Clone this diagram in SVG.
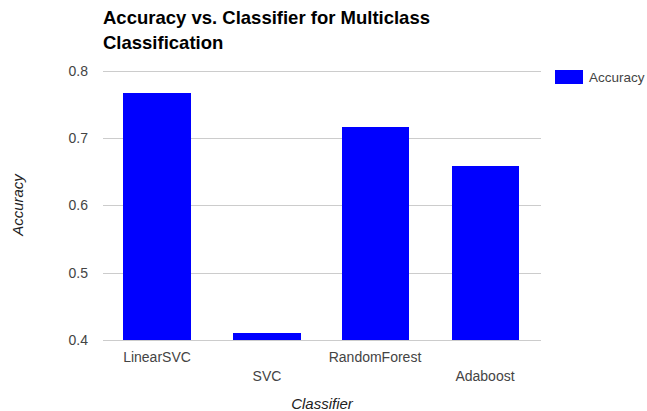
<svg xmlns="http://www.w3.org/2000/svg" width="647" height="411" viewBox="0 0 647 411">
<style>
.grid{stroke:#cccccc;stroke-width:1}
.bar{fill:#0000ff}
.tick{font-family:"Liberation Sans",Arial,sans-serif;font-size:14px;fill:#444444}
.title{font-family:"Liberation Sans",Arial,sans-serif;font-size:18.5px;font-weight:bold;fill:#000000}
.axt{font-family:"Liberation Sans",Arial,sans-serif;font-size:15px;font-style:italic;fill:#222222}
</style>
<rect width="647" height="411" fill="#ffffff"/>
<g id="title">
<text class="title" x="103" y="24">Accuracy vs. Classifier for Multiclass</text>
<text class="title" x="103" y="49">Classification</text>
</g>
<g id="gridlines">
<line class="grid" x1="103" y1="71.5" x2="541" y2="71.5"/>
<line class="grid" x1="103" y1="138.5" x2="541" y2="138.5"/>
<line class="grid" x1="103" y1="205.5" x2="541" y2="205.5"/>
<line class="grid" x1="103" y1="273.5" x2="541" y2="273.5"/>
<line class="grid" x1="103" y1="340.5" x2="541" y2="340.5"/>
</g>
<g id="yticks" text-anchor="end">
<text class="tick" x="88" y="76">0.8</text>
<text class="tick" x="88" y="143">0.7</text>
<text class="tick" x="88" y="210">0.6</text>
<text class="tick" x="88" y="278">0.5</text>
<text class="tick" x="88" y="345">0.4</text>
</g>
<g id="bar-linearsvc">
<rect class="bar" x="123" y="93" width="68" height="247"/>
<text class="tick" x="157" y="362" text-anchor="middle">LinearSVC</text>
</g>
<g id="bar-svc">
<rect class="bar" x="233" y="333" width="68" height="7"/>
<text class="tick" x="267" y="381" text-anchor="middle">SVC</text>
</g>
<g id="bar-randomforest">
<rect class="bar" x="342" y="127" width="67" height="213"/>
<text class="tick" x="375" y="362" text-anchor="middle">RandomForest</text>
</g>
<g id="bar-adaboost">
<rect class="bar" x="452" y="166" width="67" height="174"/>
<text class="tick" x="485" y="381" text-anchor="middle">Adaboost</text>
</g>
<g id="axis-titles">
<text class="axt" x="322" y="409" text-anchor="middle">Classifier</text>
<text class="axt" transform="translate(23,205) rotate(-90)" text-anchor="middle">Accuracy</text>
</g>
<g id="legend">
<rect class="bar" x="555" y="70" width="28" height="14"/>
<text class="tick" x="589" y="82" style="font-size:13.5px">Accuracy</text>
</g>
</svg>
